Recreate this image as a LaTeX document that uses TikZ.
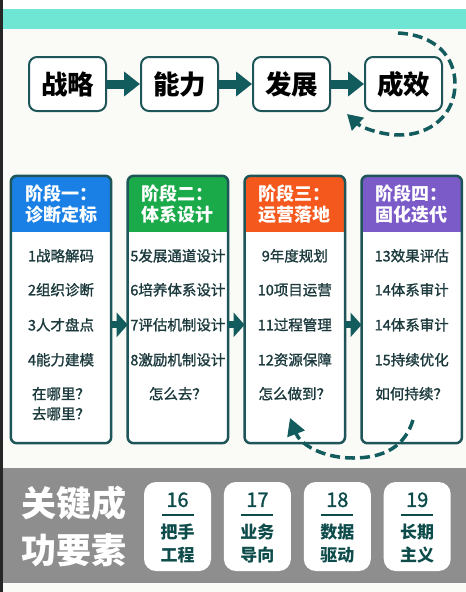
\documentclass[tikz,border=0pt]{standalone}
\usepackage{fontspec}
\setmainfont{Noto Sans CJK SC}
\newfontfamily\medfont{Noto Sans CJK SC}[FakeBold=1.3]
\usetikzlibrary{arrows.meta, positioning, calc}
\definecolor{cband}{RGB}{111,230,211}
\definecolor{cborder}{RGB}{30,85,88}
\definecolor{carrow}{RGB}{19,92,94}
\definecolor{ctext}{RGB}{28,58,61}
\definecolor{cfactor}{RGB}{14,76,76}
\definecolor{cblue}{RGB}{26,128,230}
\definecolor{cgreen}{RGB}{27,170,74}
\definecolor{corange}{RGB}{244,88,28}
\definecolor{cpurple}{RGB}{122,91,199}
\definecolor{cgrey}{RGB}{142,142,142}
\definecolor{cpaper}{RGB}{250,250,246}

\begin{document}
\begin{tikzpicture}[
    x=1pt, y=-1pt,
    topbox/.style={draw=cborder, line width=2pt, fill=white, rounded corners=8pt, minimum width=77pt, minimum height=54pt, inner sep=0pt, font=\fontsize{26.5}{30}\selectfont\bfseries},
    stagebox/.style={fill=white, rounded corners=6pt, minimum width=100pt, minimum height=267pt, inner sep=0pt},
    head/.style={anchor=west, align=left, text=white, inner sep=0pt, font=\fontsize{18}{21}\selectfont\bfseries},
    item/.style={text=ctext, inner sep=0pt, font=\fontsize{14.5}{20}\medfont},
    flowarrow/.style={carrow, line width=9pt, -{Triangle[length=16pt, width=24pt]}},
    stagearrow/.style={carrow, line width=7pt, -{Triangle[length=11pt, width=24pt]}},
    backflow/.style={carrow, line width=3.5pt, dash pattern=on 10pt off 5pt},
    factor/.style={fill=white, rounded corners=12pt, minimum width=67pt, minimum height=89pt, inner sep=0pt},
    fnum/.style={text=cfactor, inner sep=0pt, font=\fontsize{20}{22}\medfont},
    fword/.style={text=cfactor, align=center, inner sep=0pt, font=\fontsize{17}{23}\selectfont\bfseries},
]
    % page
    \fill[cpaper] (0,0) rectangle (466,592);
    \useasboundingbox (0,0) rectangle (466,592);
    \fill[white] (0,0) rectangle (466,9);
    \fill[cband] (0,9) rectangle (466,29);
    \fill[cgrey] (0,468) rectangle (466,583);
    \fill[black!85] (0,0) rectangle (3,592);

    % top chain
    \node[topbox] (zl) at (67.5,84) {战略};
    \node[topbox, right=33pt of zl] (nl) {能力};
    \node[topbox, right=33pt of nl] (fz) {发展};
    \node[topbox, right=33pt of fz] (cx) {成效};
    \draw[flowarrow] (zl.east) -- (nl.west);
    \draw[flowarrow] (nl.east) -- (fz.west);
    \draw[flowarrow] (fz.east) -- (cx.west);

    \coordinate (t1) at (398,33);
    \coordinate (t2) at (347,114);
    \draw[backflow, -{Triangle[length=15pt, width=17pt]}] (t1) .. controls (435,35) and (455,56) .. (455,84)
        .. controls (455,115) and (430,135) .. (400,135) .. controls (382,135) and (362,128) .. (t2);

    % stages
    \node[stagebox] (st1) at (61,309.5) {};
    \node[stagebox, right=16.5pt of st1] (st2) {};
    \node[stagebox, right=16.5pt of st2] (st3) {};
    \node[stagebox, right=16.5pt of st3] (st4) {};

    \foreach \k/\c/\h in {1/cblue/{阶段一：\\诊断定标}, 2/cgreen/{阶段二：\\体系设计},
                          3/corange/{阶段三：\\运营落地}, 4/cpurple/{阶段四：\\固化迭代}} {
        \begin{scope}
            \clip[rounded corners=6pt] (st\k.south west) rectangle (st\k.north east);
            \fill[\c] (st\k.north west) rectangle ($(st\k.north east)+(0,56)$);
        \end{scope}
        \draw[cborder, line width=2.5pt, rounded corners=6pt] (st\k.south west) rectangle (st\k.north east);
        \node[head] (h\k) at ($(st\k.north west)+(14,28)$) {\h};
    }

    \foreach \k/\a/\b/\c/\d/\q in {
        1/1战略解码/2组织诊断/3人才盘点/4能力建模/{在哪里？\\去哪里？},
        2/5发展通道设计/6培养体系设计/7评估机制设计/8激励机制设计/{怎么去？},
        3/9年度规划/10项目运营/11过程管理/12资源保障/{怎么做到？},
        4/13效果评估/14体系审计/14体系审计/15持续优化/{如何持续？}} {
        \node[item] (a\k) at ($(st\k.north)+(0,80)$) {\a};
        \node[item] (b\k) at ($(st\k.north)+(0,114)$) {\b};
        \node[item] (c\k) at ($(st\k.north)+(0,149)$) {\c};
        \node[item] (d\k) at ($(st\k.north)+(0,184)$) {\d};
        \node[item, anchor=north, align=center] (q\k) at ($(st\k.north)+(0,211)$) {\q};
    }

    \draw[stagearrow] (st1.east |- c1) -- (st2.west |- c1);
    \draw[stagearrow] (st2.east |- c2) -- (st3.west |- c2);
    \draw[stagearrow] (st3.east |- c3) -- (st4.west |- c3);

    \coordinate (l1) at (413,420);
    \coordinate (l2) at (290,418);
    \draw[backflow, -{Triangle[length=17pt, width=18pt]}] (l1) .. controls (405,446) and (385,458) .. (353,458)
        .. controls (322,458) and (300,444) .. (l2);

    % key factors
    \node[text=white, align=center, inner sep=0pt, font=\fontsize{35}{47}\selectfont\bfseries] (key) at (74,526.5) {关键成\\功要素};
    \node[factor] (f1) at (177.5,526.5) {};
    \node[factor, right=12.5pt of f1] (f2) {};
    \node[factor, right=12.5pt of f2] (f3) {};
    \node[factor, right=12.5pt of f3] (f4) {};
    \foreach \k/\n/\t in {1/16/{把手\\工程}, 2/17/{业务\\导向}, 3/18/{数据\\驱动}, 4/19/{长期\\主义}} {
        \node[fnum] (n\k) at ($(f\k.north)+(0,18)$) {\n};
        \draw[cfactor, line width=2pt] ($(f\k.north)+(-16,33)$) -- ($(f\k.north)+(16,33)$);
        \node[fword] (w\k) at ($(f\k.north)+(0,62)$) {\t};
    }
\end{tikzpicture}
\end{document}
